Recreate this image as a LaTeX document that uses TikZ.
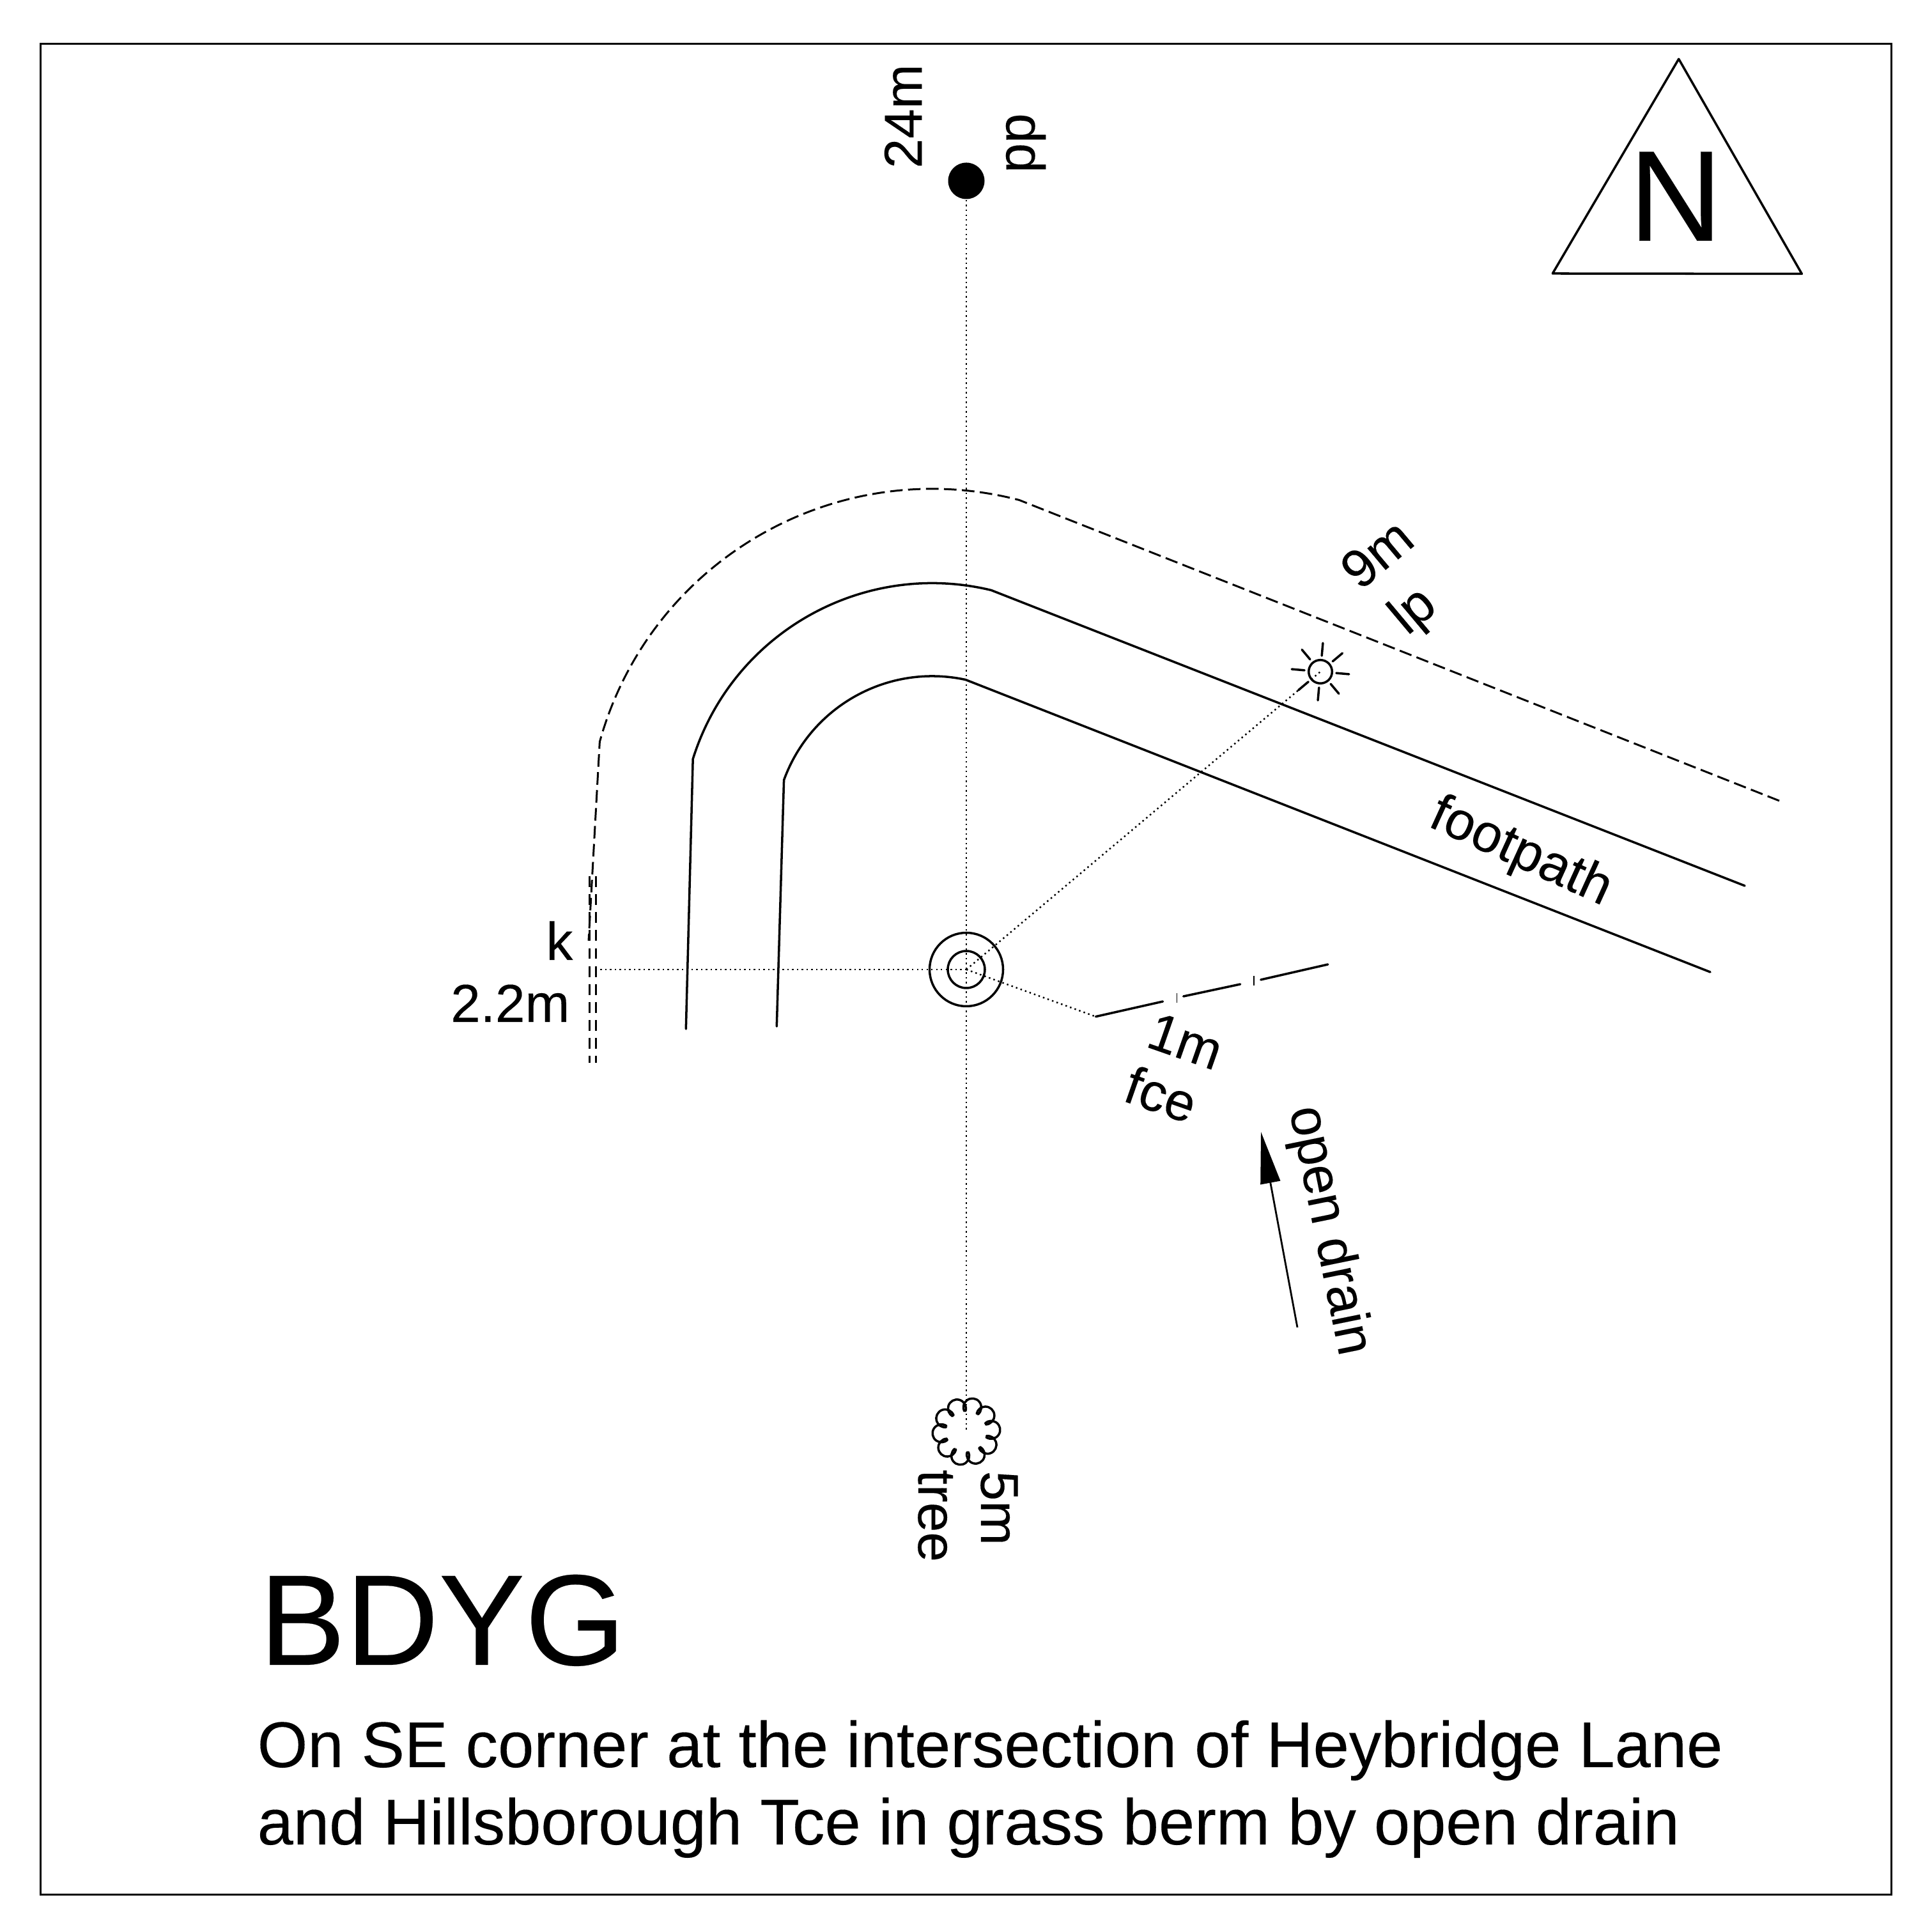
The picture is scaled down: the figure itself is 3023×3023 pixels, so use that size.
\documentclass[tikz,border=0pt]{standalone}
\usepackage{fontspec}
\setmainfont{Liberation Sans}
\usetikzlibrary{calc,arrows.meta}
\tikzset{
  solidline/.style={line width=1pt,line cap=round,line join=round},
  roaddash/.style={line width=0.85pt,dash pattern=on 5.6pt off 2.4pt},
  kerbdash/.style={line width=0.85pt,dash pattern=on 4.8pt off 3.2pt},
  dots/.style={line width=0.7pt,dash pattern=on 0.7pt off 1.434pt},
  lbl/.style={inner sep=0pt,font=\fontsize{23.8}{28}\selectfont\addfontfeature{FakeBold=0.12}},
  descr/.style={inner sep=0pt,anchor=base west,font=\fontsize{28.75}{33}\selectfont\addfontfeature{FakeBold=0.12}},
  big/.style={inner sep=0pt,anchor=base west,font=\fontsize{57.5}{66}\selectfont\addfontfeature{FakeBold=0.12}},
}
\begin{document}
\begin{tikzpicture}[x=0.01cm,y=0.01cm]
\useasboundingbox (0,0) rectangle (3023,3023);
% frame
\draw[line width=1pt] (63.6,58.6) rectangle (2959.5,2954.3);
% north sign
\coordinate (na) at (2626.7,2930.7);
\coordinate (nb) at (2429.3,2595);
\coordinate (nc) at (2819.3,2594.5);
\draw[solidline] (na) -- (nb) -- (nc) -- cycle;
\node[big] (north) at (2548,2646.3) {N};
% key coordinates
\coordinate (O) at (1512,1506);
\coordinate (pp) at (1512,2740);
\coordinate (lamp) at (2066,1972);
\coordinate (tree) at (1512,783);
\coordinate (fa) at (1714.5,1432.3);
\coordinate (kerb) at (932.3,1506);
\coordinate (C) at (1458.7,1718);
% dotted ties
\draw[dots] (pp) -- (tree);
\draw[dots] (O) -- (kerb);
\draw[dots] (O) -- (lamp);
\draw[dots] (O) -- (fa);
% mark and pole
\draw[solidline] (O) circle[radius=57.5];
\draw[solidline] (O) circle[radius=29];
\fill (pp) circle[radius=28.5];
% road edges
\coordinate (da) at (2784,1770);
\coordinate (db) at (921,1551);
\draw[roaddash] (da) -- ($(C)+(75.4:540)$) arc[start angle=75.4,end angle=164.5,radius=540] -- (db);
\coordinate (ma) at (2730,1637);
\coordinate (mb) at (1073.3,1413);
\draw[solidline] (ma) -- ($(C)+(76.4:392.5)$) arc[start angle=76.4,end angle=162.6,radius=392.5] -- (mb);
\coordinate (ia) at (2676,1502);
\coordinate (ib) at (1215.3,1417);
\draw[solidline] (ia) -- ($(C)+(77.8:247)$) arc[start angle=77.8,end angle=160,radius=247] -- (ib);
% kerb
\coordinate (ka) at (922.3,1652);
\coordinate (kb) at (922.3,1360);
\coordinate (kc) at (932.3,1652);
\coordinate (kd) at (932.3,1360);
\draw[kerbdash] (ka) -- (kb);
\draw[kerbdash] (kc) -- (kd);
% fence
\coordinate (f1) at (1819.5,1456);
\coordinate (f2) at (1851.7,1464);
\coordinate (f3) at (1940.6,1483);
\coordinate (f4) at (1972.8,1490);
\coordinate (f5) at (2077.8,1514);
\draw[solidline] (fa) -- (f1);
\draw[solidline] (f2) -- (f3);
\draw[solidline] (f4) -- (f5);
\coordinate (t1a) at (1841.3,1469);
\coordinate (t1b) at (1841.3,1454);
\coordinate (t2a) at (1961.9,1496);
\coordinate (t2b) at (1961.9,1481);
\draw[line width=0.35pt] (t1a) -- (t1b);
\draw[line width=0.35pt] (t2a) -- (t2b);
% lamp symbol
\draw[solidline] (lamp) circle[radius=18.3];
\foreach \a in {85,40,-5,-50,-95,-140,175,130}
  \draw[solidline] ($(lamp)+(\a:25)$) -- ($(lamp)+(\a:45)$);
% tree symbol
\foreach \a in {76,112,148,184,220,256,292,328,364,400}
  \draw[solidline] ($(tree)+(\a:39)+(\a-128:14)$) arc[start angle=\a-128,end angle=\a+128,radius=14];
% drain arrow
\coordinate (dtail) at (2030,946);
\coordinate (dtip) at (1973,1252);
\draw[line width=0.8pt,-{Triangle[length=81*0.01cm,width=31*0.01cm]}] (dtail) -- (dtip);
% labels
\node[lbl,rotate=90] (l24) at (1413,2841) {24m};
\node[lbl,rotate=90] (lpp) at (1605,2799) {pp};
\node[lbl,anchor=base east] (lk) at (897,1521) {k};
\node[lbl,anchor=base east] (l22) at (892,1424) {2.2m};
\node[lbl,rotate=40] (l9) at (2154,2157) {9m};
\node[lbl,rotate=40] (llp) at (2213,2065) {lp};
\node[lbl,rotate=-19.3] (l1) at (1855,1394) {1m};
\node[lbl,rotate=-19.3] (lf) at (1817,1311) {fce};
\node[lbl,rotate=-24.5] (lfoot) at (2379,1688) {footpath};
\node[lbl,rotate=-78.5] (ldrain) at (2078,1097) {open drain};
\node[lbl,rotate=-90,anchor=base west] (ltree) at (1437,724) {tree};
\node[lbl,rotate=-90,anchor=base west] (l5) at (1535,722) {5m};
\node[big] (title) at (405,418) {BDYG};
\node[descr] (d1) at (402,258) {On SE corner at the intersection of Heybridge Lane};
\node[descr] (d2) at (402,137) {and Hillsborough Tce in grass berm by open drain};
\end{tikzpicture}
\end{document}
